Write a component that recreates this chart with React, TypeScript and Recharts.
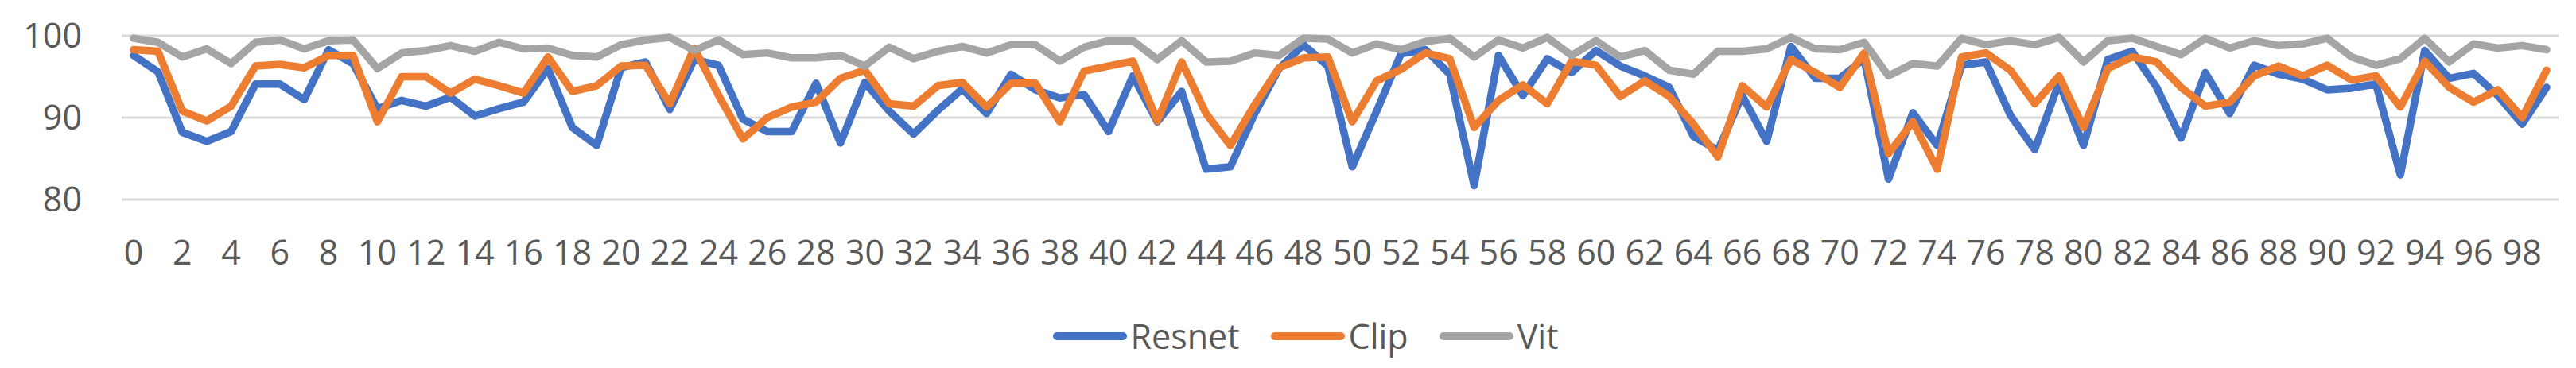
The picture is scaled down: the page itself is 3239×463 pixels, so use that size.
import React from 'react';
import { LineChart, Line, XAxis, YAxis, CartesianGrid, Legend } from 'recharts';

const categories: number[] = Array.from({ length: 100 }, (_, i) => i);

const resnet: number[] = [
  97.6, 95.6, 88.2, 87.1, 88.3, 94.1, 94.1, 92.2, 98.3, 96.6,
  91.1, 92.1, 91.4, 92.5, 90.2, 91.1, 91.9, 96.0, 88.8, 86.6,
  96.1, 96.8, 91.0, 97.1, 96.4, 89.8, 88.3, 88.3, 94.2, 86.9,
  94.3, 90.8, 88.0, 90.9, 93.5, 90.5, 95.3, 93.4, 92.4, 92.8,
  88.3, 95.1, 89.5, 93.2, 83.7, 84.0, 90.5, 96.0, 98.9, 96.3,
  84.0, 90.8, 97.8, 98.3, 95.3, 81.7, 97.6, 92.7, 97.2, 95.5,
  98.2, 96.3, 95.1, 93.7, 87.7, 86.0, 92.7, 87.1, 98.7, 94.8,
  94.8, 97.2, 82.5, 90.6, 86.6, 96.4, 96.8, 90.3, 86.1, 94.3,
  86.6, 97.1, 98.1, 93.7, 87.5, 95.5, 90.5, 96.4, 95.3, 94.7,
  93.4, 93.6, 94.1, 83.0, 98.2, 94.8, 95.4, 92.7, 89.2, 93.7,
];

const clip: number[] = [
  98.3, 98.1, 90.8, 89.6, 91.4, 96.3, 96.5, 96.1, 97.6, 97.6,
  89.5, 95.0, 95.0, 93.0, 94.7, 93.9, 93.0, 97.4, 93.2, 93.9,
  96.3, 96.4, 91.7, 98.5, 92.7, 87.4, 90.0, 91.3, 91.9, 94.8,
  95.8, 91.7, 91.4, 93.9, 94.3, 91.3, 94.2, 94.2, 89.5, 95.7,
  96.3, 96.9, 89.6, 96.8, 90.5, 86.6, 91.6, 96.1, 97.3, 97.4,
  89.5, 94.5, 95.9, 97.9, 97.2, 88.8, 92.1, 94.0, 91.7, 96.9,
  96.4, 92.6, 94.5, 92.6, 89.2, 85.2, 93.9, 91.3, 97.1, 95.5,
  93.7, 97.9, 85.6, 89.5, 83.7, 97.4, 97.9, 95.8, 91.7, 95.1,
  88.8, 96.0, 97.4, 96.8, 93.7, 91.4, 91.9, 95.1, 96.3, 95.1,
  96.4, 94.6, 95.1, 91.3, 96.9, 93.7, 91.9, 93.4, 90.0, 95.8,
];

const vit: number[] = [
  99.7, 99.2, 97.4, 98.4, 96.6, 99.2, 99.5, 98.4, 99.4, 99.5,
  96.0, 97.9, 98.2, 98.8, 98.1, 99.2, 98.4, 98.5, 97.6, 97.4,
  98.9, 99.5, 99.8, 98.2, 99.5, 97.7, 97.9, 97.3, 97.3, 97.6,
  96.3, 98.6, 97.2, 98.1, 98.7, 97.9, 98.9, 98.9, 96.9, 98.6,
  99.4, 99.4, 97.1, 99.4, 96.8, 96.9, 97.9, 97.6, 99.7, 99.6,
  97.9, 99.0, 98.3, 99.3, 99.7, 97.4, 99.5, 98.5, 99.8, 97.6,
  99.4, 97.4, 98.2, 95.8, 95.3, 98.1, 98.1, 98.4, 99.8, 98.4,
  98.3, 99.2, 95.1, 96.6, 96.3, 99.7, 98.9, 99.4, 98.9, 99.8,
  96.8, 99.4, 99.7, 98.7, 97.7, 99.7, 98.5, 99.4, 98.8, 99.0,
  99.7, 97.4, 96.4, 97.2, 99.7, 96.8, 99.0, 98.5, 98.8, 98.3,
];

const yTicks: number[] = [80, 90, 100];

const seriesNames = ['Resnet', 'Clip', 'Vit'];
const seriesColors = ['#4472C4', '#ED7D31', '#A5A5A5'];

const data = categories.map((c, i) => ({
  x: c,
  Resnet: resnet[i],
  Clip: clip[i],
  Vit: vit[i],
}));

const FONT = '"Open Sans", sans-serif';
const TEXT = '#595959';

const LegendContent = () => (
  <div
    style={{
      width: 3239,
      height: 80,
      display: 'flex',
      justifyContent: 'center',
      alignItems: 'center',
      fontFamily: FONT,
      fontSize: 43,
      color: TEXT,
      paddingLeft: 44,
      boxSizing: 'border-box',
    }}
  >
    {seriesNames.map((n, i) => (
      <div key={n} style={{ display: 'flex', alignItems: 'center', marginRight: i < 2 ? 39 : 0 }}>
        <div
          style={{
            width: 93,
            height: 10,
            borderRadius: 5,
            background: seriesColors[i],
            marginRight: 5,
          }}
        />
        <span style={{ lineHeight: '80px' }}>{n}</span>
      </div>
    ))}
  </div>
);

export default function App() {
  return (
    <div style={{ position: 'absolute', left: 0, top: 0, width: 3239, height: 463, background: '#fff' }}>
      <LineChart
        width={3239}
        height={463}
        data={data}
        margin={{ top: 45, right: 22, left: 0, bottom: 0 }}
      >
        <CartesianGrid horizontal vertical={false} stroke="#D9D9D9" strokeWidth={3} />
        <XAxis
          dataKey="x"
          interval={1}
          padding={{ left: 15, right: 15 }}
          axisLine={false}
          tickLine={false}
          tickSize={0}
          tickMargin={51}
          height={132}
          tick={{ fill: TEXT, fontSize: 43, fontFamily: FONT }}
        />
        <YAxis
          domain={[80, 100]}
          ticks={yTicks}
          width={153}
          axisLine={false}
          tickLine={false}
          tickSize={0}
          tickMargin={50}
          tick={{ fill: TEXT, fontSize: 43, fontFamily: FONT }}
        />
        <Legend
          verticalAlign="bottom"
          height={80}
          content={() => <LegendContent />}
          wrapperStyle={{ left: 0, width: 3239 }}
        />
        {seriesNames.map((n, i) => (
          <Line
            key={n}
            type="linear"
            dataKey={n}
            stroke={seriesColors[i]}
            strokeWidth={9.5}
            strokeLinejoin="round"
            strokeLinecap="round"
            dot={false}
            activeDot={false}
            isAnimationActive={false}
          />
        ))}
      </LineChart>
    </div>
  );
}
